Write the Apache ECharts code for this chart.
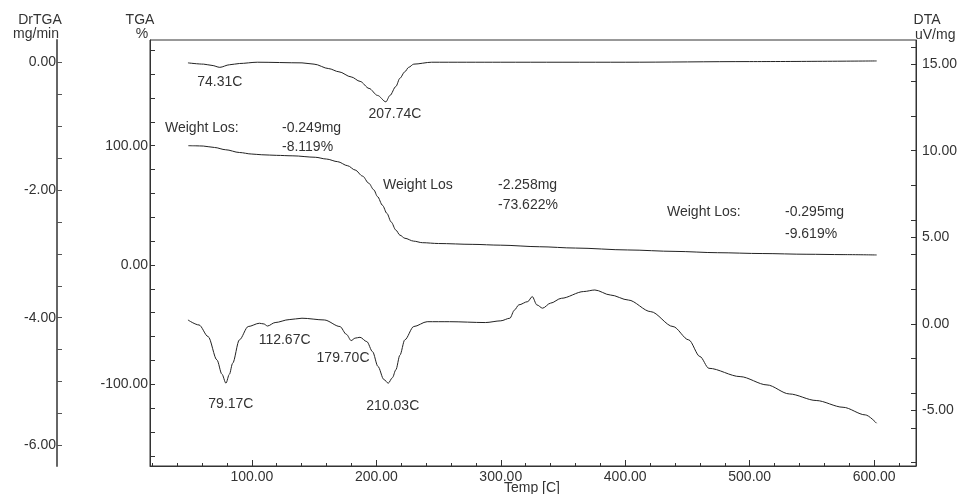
<!DOCTYPE html>
<html>
<head>
<meta charset="utf-8">
<script src="https://cdn.jsdelivr.net/npm/echarts@6/dist/echarts.min.js"></script>
<style>
  html, body { margin: 0; padding: 0; background: #fff; }
  #main { width: 959px; height: 494px; }
</style>
</head>
<body>
<div id="main"></div>
<script>
// DrTGA curve (mg/min)
var dtgT = [48.7, 61.3, 68, 74.3, 82, 90, 104.4, 140.3, 150, 161.8, 170, 179.8, 187, 194.2, 201, 207.7, 211, 215.7, 219, 222.9, 226, 230.1, 244.5, 300, 400, 500, 602];
var dtgV = [-0.01, -0.03, -0.05, -0.08, -0.04, -0.02, 0, -0.01, -0.03, -0.1, -0.15, -0.23, -0.3, -0.41, -0.52, -0.62, -0.52, -0.38, -0.25, -0.15, -0.08, -0.03, 0, 0, 0, 0.01, 0.02];

// TGA curve (%)
var tgaT = [49, 55, 61, 70, 79, 90, 100, 108, 120, 133, 151, 160, 169, 177, 183, 189, 194, 198, 201, 205, 208.5, 212, 215.7, 219, 223, 230, 237, 250, 277, 300, 331, 360, 402, 440, 474, 510, 546, 575, 602];
var tgaV = [100.0, 99.9, 99.7, 98.5, 96.6, 94.3, 93.0, 92.4, 91.9, 91.5, 90.3, 88.8, 86.6, 83.2, 79.6, 74.5, 68.5, 63, 57.3, 50, 43.3, 36, 29.3, 25, 22.4, 20, 18.7, 18.0, 17.3, 16.6, 15.3, 14.2, 12.6, 11.4, 10.3, 9.6, 9.0, 8.7, 8.4];

// DTA curve (uV/mg)
var dtaT = [48.7, 57.6, 64.9, 72, 76, 79.2, 82, 84.6, 90, 97.1, 106.1, 109.7, 112.6, 118.7, 130, 140.3, 158.2, 170.8, 176, 179.8, 183, 186.9, 192.4, 197, 201.4, 206, 209.6, 213, 215.7, 219, 222.9, 230.1, 240.9, 258.8, 287.6, 300, 307.3, 311, 314.5, 321.7, 325.3, 329, 333.6, 340, 348.7, 366.6, 375.6, 388.1, 402.5, 420.5, 438.4, 451, 460, 467.2, 492.3, 513.9, 531.8, 553.4, 575, 592.9, 601.9];
var dtaV = [0.23, -0.06, -0.73, -2.08, -2.9, -3.42, -2.9, -2.27, -0.92, -0.15, 0.04, 0, -0.12, 0.08, 0.25, 0.33, 0.23, -0.15, -0.6, -0.96, -0.82, -0.77, -1.02, -1.6, -2.46, -3.2, -3.42, -3.1, -2.65, -1.8, -0.92, -0.15, 0.13, 0.13, 0.08, 0.18, 0.33, 0.8, 1.10, 1.29, 1.58, 1.1, 0.91, 1.2, 1.48, 1.87, 1.96, 1.67, 1.38, 0.71, -0.15, -0.92, -1.88, -2.56, -3.04, -3.52, -4.04, -4.42, -4.81, -5.25, -5.73];

// peak labels
var dtgPeakT = [74.31, 207.74];
var dtgPeakV = [-0.08, -0.62];
var dtgPeakText = ['74.31C', '207.74C'];
var dtaPeakT = [79.17, 112.67, 179.70, 210.03];
var dtaPeakV = [-3.42, -0.12, -0.96, -3.42];
var dtaPeakText = ['79.17C', '112.67C', '179.70C', '210.03C'];

// tick labels
var xLabels = [100, 200, 300, 400, 500, 600];
var dtgLabels = [0, -2, -4, -6];
var tgaLabels = [100, 0, -100];
var dtaLabels = [15, 10, 5, 0, -5];

function range(a, b, s) {
  var r = [];
  for (var v = a; v <= b + 1e-9; v += s) r.push(Math.round(v * 100) / 100);
  return r;
}
function pairs(xs, ys) {
  return xs.map(function (x, i) { return [x, ys[i]]; });
}

var FONT = '"Liberation Sans", Arial, sans-serif';
var TXT = '#333';

var myChart = echarts.init(document.getElementById('main'));

var dtaTicks = range(-8, 16, 2).concat([-5, 5, 15]);

function txt(s, x, y, align) {
  return { type: 'text', x: x, y: y, style: { text: s, font: '14px ' + FONT, fill: TXT, align: align || 'left', verticalAlign: 'middle' } };
}

var option = {
  backgroundColor: '#fff',
  animation: false,
  textStyle: { fontFamily: FONT },
  grid: { left: 150, top: 40, right: 43, bottom: 28, show: true, borderColor: '#333', borderWidth: 1, outerBoundsMode: 'none', containLabel: false },
  xAxis: [{
    type: 'value', min: 18.2, max: 633.6,
    axisLine: { onZero: false, lineStyle: { color: '#333' } },
    axisTick: { inside: true, length: 3, customValues: range(20, 620, 20), lineStyle: { color: '#333' } },
    axisLabel: { customValues: xLabels, formatter: function (v) { return v.toFixed(2); }, margin: 4, fontSize: 14, color: TXT, fontFamily: FONT },
    splitLine: { show: false }
  }, {
    type: 'value', min: 18.2, max: 633.6, position: 'bottom',
    axisLine: { show: false, onZero: false },
    axisTick: { inside: true, length: 6, customValues: xLabels, lineStyle: { color: '#333' } },
    axisLabel: { show: false },
    splitLine: { show: false }
  }],
  yAxis: [{
    // DrTGA
    type: 'value', position: 'left', offset: 93, min: -6.322, max: 0.348,
    axisLine: { show: true, onZero: false, lineStyle: { color: '#666', width: 2 } },
    axisTick: { show: true, inside: true, length: 5, customValues: range(-6, 0, 0.5), lineStyle: { color: '#555' } },
    axisLabel: { customValues: dtgLabels, formatter: function (v) { return v.toFixed(2); }, margin: 1, fontSize: 14, color: TXT, fontFamily: FONT },
    splitLine: { show: false }
  }, {
    // TGA
    type: 'value', position: 'left', offset: 0, min: -168.5, max: 188.6,
    axisLine: { show: true, onZero: false, lineStyle: { color: '#333' } },
    axisTick: { show: true, inside: true, length: 5, customValues: range(-160, 180, 20), lineStyle: { color: '#333' } },
    axisLabel: { customValues: tgaLabels, formatter: function (v) { return v.toFixed(2); }, margin: 2, fontSize: 14, color: TXT, fontFamily: FONT },
    splitLine: { show: false }
  }, {
    // DTA
    type: 'value', position: 'right', offset: 0, min: -8.20, max: 16.39,
    axisLine: { show: true, onZero: false, lineStyle: { color: '#333' } },
    axisTick: { show: true, inside: true, length: 5, customValues: dtaTicks, lineStyle: { color: '#333' } },
    axisLabel: { customValues: dtaLabels, formatter: function (v) { return v.toFixed(2); }, margin: 6, fontSize: 14, color: TXT, fontFamily: FONT },
    splitLine: { show: false }
  }],
  series: [{
    name: 'DrTGA', type: 'line', yAxisIndex: 0, data: pairs(dtgT, dtgV),
    symbol: 'none', smooth: 0.3, smoothMonotone: 'x',
    lineStyle: { color: '#222', width: 1 },
    markPoint: {
      symbol: 'circle', symbolSize: 1, itemStyle: { color: 'rgba(0,0,0,0)' },
      label: { fontSize: 14, color: TXT, fontFamily: FONT },
      data: [
        { coord: [dtgPeakT[0], dtgPeakV[0]], label: { formatter: dtgPeakText[0], offset: [0, 15] } },
        { coord: [dtgPeakT[1], dtgPeakV[1]], label: { formatter: dtgPeakText[1], offset: [9, 12] } }
      ]
    }
  }, {
    name: 'TGA', type: 'line', yAxisIndex: 1, data: pairs(tgaT, tgaV),
    symbol: 'none', smooth: 0.3, smoothMonotone: 'x',
    lineStyle: { color: '#222', width: 1 }
  }, {
    name: 'DTA', type: 'line', yAxisIndex: 2, data: pairs(dtaT, dtaV),
    symbol: 'none', smooth: 0.3, smoothMonotone: 'x',
    lineStyle: { color: '#222', width: 1 },
    markPoint: {
      symbol: 'circle', symbolSize: 1, itemStyle: { color: 'rgba(0,0,0,0)' },
      label: { fontSize: 14, color: TXT, fontFamily: FONT },
      data: [
        { coord: [dtaPeakT[0], dtaPeakV[0]], label: { formatter: dtaPeakText[0], offset: [5, 21] } },
        { coord: [dtaPeakT[1], dtaPeakV[1]], label: { formatter: dtaPeakText[1], offset: [17, 14] } },
        { coord: [dtaPeakT[2], dtaPeakV[2]], label: { formatter: dtaPeakText[2], offset: [-8, 18] } },
        { coord: [dtaPeakT[3], dtaPeakV[3]], label: { formatter: dtaPeakText[3], offset: [4, 23] } }
      ]
    }
  }],
  graphic: [
    // axis titles
    txt('DrTGA', 40, 20, 'center'),
    txt('mg/min', 36, 34, 'center'),
    txt('TGA', 140, 20, 'center'),
    txt('%', 142, 34, 'center'),
    txt('DTA', 927, 20, 'center'),
    txt('uV/mg', 915, 35),
    txt('Temp [C]', 532, 488, 'center'),
    // weight loss notes
    txt('Weight Los:', 165, 128),
    txt('-0.249mg', 282, 128),
    txt('-8.119%', 282, 147),
    txt('Weight Los', 383, 185),
    txt('-2.258mg', 498, 185),
    txt('-73.622%', 498, 205),
    txt('Weight Los:', 667, 212),
    txt('-0.295mg', 785, 212),
    txt('-9.619%', 785, 234)
  ]
};

myChart.setOption(option);
</script>
</body>
</html>
